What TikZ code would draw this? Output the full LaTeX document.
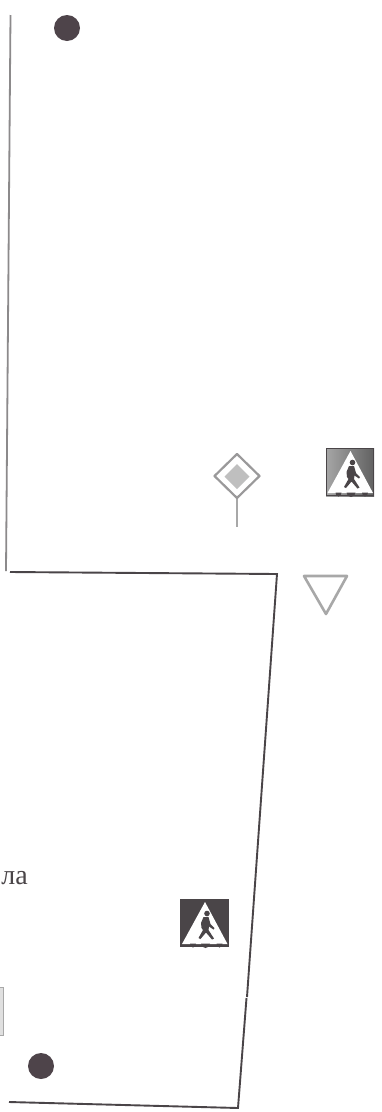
\documentclass[tikz,border=0pt]{standalone}
\usepackage{fontspec}
\setmainfont{Liberation Serif}
\definecolor{ink}{HTML}{4A4548}
\definecolor{dotc}{HTML}{4E444A}
\definecolor{soft}{HTML}{A8A8A8}
\tikzset{
  rule/.style={draw=ink,line width=1.9pt},
  dotmark/.style={circle,fill=dotc,draw=none,minimum size=26pt,inner sep=0pt},
  pedfig/.style={fill=ink,draw=none},
  pics/pedsign/.style={code={
    \fill[#1] (0,0) rectangle (48,48);
    \fill[white] (24.5,3) -- (47,45) -- (1.5,45) -- cycle;
    \draw[ink,line width=1pt] (0.3,0.3) rectangle (47.7,47.5);
    \fill[pedfig] (26.5,14.5) circle (2.8);
    \fill[pedfig] (23,18) -- (28,18) -- (30,25) -- (34,29) -- (33,30.5) -- (28.5,27.5) -- (28,31) -- (33.5,39.5) -- (31.5,40.5) -- (25.5,33.5) -- (20,40) -- (18,39) -- (22.5,31) -- (21,29) -- (20.5,24) -- cycle;
    \fill[pedfig] (9.5,44.5) arc (180:0:3 and 4) -- cycle;
    \fill[pedfig] (20.5,44.5) arc (180:0:4.5 and 4.5) -- cycle;
    \fill[pedfig] (36,44.5) arc (180:0:3 and 4) -- cycle;
  }}
}
\begin{document}
\begin{tikzpicture}[x=1pt,y=-1pt]
\useasboundingbox (0,0) rectangle (382,1112);
\fill[white] (0,0) rectangle (382,1112);
% roadway outline
\draw[draw=soft!70!ink,line width=1.8pt] (10.5,15) -- (6,571);
\draw[rule] (10,572) -- (277,574) -- (247,997);
\draw[rule] (246.5,998) -- (238,1108) -- (9,1102);
% control points
\node[dotmark] (topdot) at (67,28) {};
\node[dotmark] (botdot) at (41,1066) {};
% priority road sign
\draw[soft,line width=2.2pt] (237,498) -- (237,527);
\draw[draw=soft!85!ink,fill=white,line width=2.2pt,line join=round] (237,454) -- (259.5,476) -- (237,498) -- (214.5,476) -- cycle;
\fill[black!25] (237,464) -- (249.5,476.5) -- (237,489) -- (224.5,476.5) -- cycle;
% pedestrian crossing signs
\pic at (326,448) {pedsign={left color=black!35,right color=black!62}};
\pic at (180.5,899) {pedsign={fill=ink}};
% give way sign
\draw[draw=soft,line width=2.6pt,line join=round] (304,576) -- (347,576) -- (326,614) -- cycle;
% cut-off text and fragment
\node[anchor=base east,inner sep=0pt,text=ink,font=\fontsize{28}{28}\selectfont] (frag) at (28,884) {ла};
\draw[draw=soft,fill=black!12,line width=1pt] (-2,987) rectangle (3,1035);
\end{tikzpicture}
\end{document}
